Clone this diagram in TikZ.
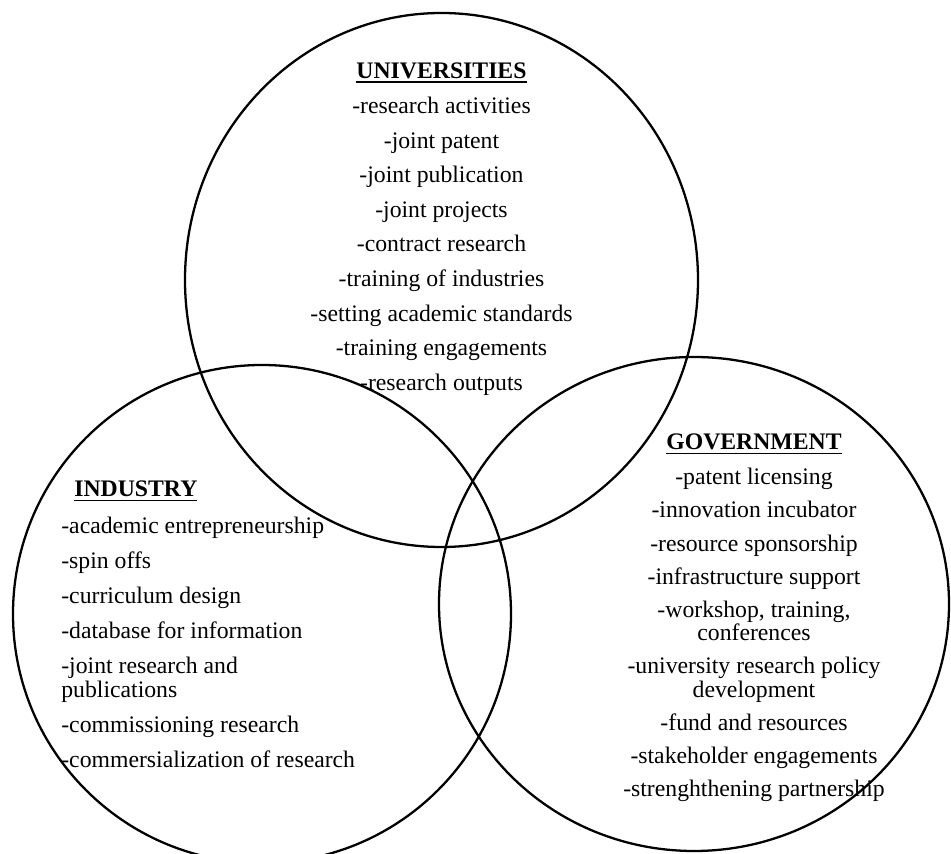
\documentclass[tikz,border=0pt]{standalone}
\usepackage{fontspec}
\setmainfont{Liberation Serif}
\tikzset{
  ring/.style={draw=black,line width=1.3pt},
  lst/.style={inner sep=0pt,font=\fontsize{13.5}{14}\selectfont},
  govlst/.style={lst,font=\fontsize{13.5}{13.2}\selectfont}
}
\newcommand{\hd}[1]{{\bfseries\setbox0\hbox{#1}\rlap{\rule[-2.6pt]{\wd0}{0.8pt}}\box0}}
\begin{document}
\begin{tikzpicture}[x=0.02cm,y=-0.02cm]
\useasboundingbox (0,0) rectangle (951,854);
\draw[ring] (441.5,280) ellipse (256.5 and 267);
\draw[ring] (262,614) circle (249);
\draw[ring] (694,604) ellipse (255 and 247);
\node[lst,align=center,anchor=north] (univ) at (441.5,62) {\hd{UNIVERSITIES}\\[6.2pt]
  -research activities\\[5.7pt]
  -joint patent\\[5.7pt]
  -joint publication\\[5.7pt]
  -joint projects\\[5.7pt]
  -contract research\\[5.7pt]
  -training of industries\\[5.7pt]
  -setting academic standards\\[5.7pt]
  -training engagements\\[5.7pt]
  -research outputs};
\node[lst,align=left,anchor=north west] (ind) at (61,480.5) {\hspace*{7.4pt}\hd{INDUSTRY}\\[7pt]
  -academic entrepreneurship\\[5.9pt]
  -spin offs\\[5.9pt]
  -curriculum design\\[5.9pt]
  -database for information\\[5.9pt]
  -joint research and\\
  publications\\[5.9pt]
  -commissioning research\\[5.9pt]
  -commersialization of research};
\node[govlst,align=center,anchor=north] (gov) at (754,433.5) {\hd{GOVERNMENT}\\[6.8pt]
  -patent licensing\\[5.7pt]
  -innovation incubator\\[5.7pt]
  -resource sponsorship\\[5.7pt]
  -infrastructure support\\[5.7pt]
  -workshop, training,\\
  conferences\\[5.7pt]
  -university research policy\\
  development\\[5.7pt]
  -fund and resources\\[5.7pt]
  -stakeholder engagements\\[5.7pt]
  -strenghthening partnership};
\end{tikzpicture}
\end{document}
